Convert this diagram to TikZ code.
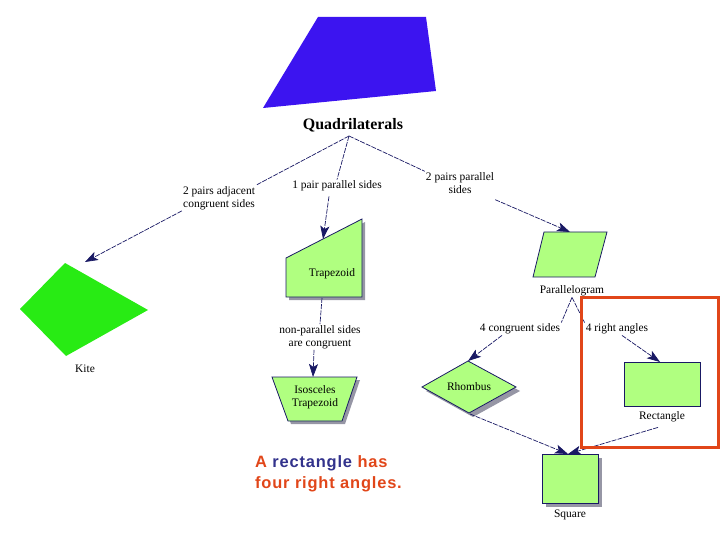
\documentclass[tikz,border=0pt]{standalone}
\usepackage{fontspec}
\setmainfont{Liberation Serif}
\newfontfamily\arialb{Liberation Sans}[BoldFont={* Bold}, LetterSpace=5]
\usetikzlibrary{arrows.meta}
\definecolor{navy}{RGB}{25,25,100}
\definecolor{lgreen}{RGB}{176,255,128}
\definecolor{kgreen}{RGB}{40,235,20}
\definecolor{qblue}{RGB}{60,20,240}
\definecolor{ored}{RGB}{225,70,25}
\definecolor{tblue}{RGB}{50,50,140}
\definecolor{shade}{RGB}{150,150,165}
\tikzset{
  x=1bp, y=-1bp,
  lab/.style={font=\fontsize{11.5}{13}\selectfont, align=center, inner sep=1bp, text=black},
  conn/.style={draw=navy, line width=0.7bp, dash pattern=on 5bp off 1.2bp},
  arr/.style={conn, -{Stealth[length=13bp,width=9bp,inset=3bp]}},
  shp/.style={fill=lgreen, draw=navy, line width=0.8bp},
  shd/.style={fill=shade},
}
\begin{document}
\begin{tikzpicture}
\useasboundingbox (0,0) rectangle (720,540);
% top blue quadrilateral
\fill[qblue] (318,17) -- (426,17) -- (436,91) -- (263,108) -- cycle;
\node[font=\fontsize{16}{18}\selectfont\bfseries] (quad) at (353,125) {Quadrilaterals};
\coordinate (qa) at (349,136);
% labels
\node[lab] (adj) at (219,198) {2 pairs adjacent\\congruent sides};
\node[lab] (one) at (337,186) {1 pair parallel sides};
\node[lab] (two) at (460,183) {2 pairs parallel\\sides};
% kite
\fill[kgreen] (65,263) -- (148,310) -- (66,356) -- (20,309) -- cycle;
\coordinate (kitetop) at (85,262);
\node[lab] (kite) at (85,369) {Kite};
% trapezoid
\fill[shd] (289,261) -- (365,222) -- (365,300) -- (289,300) -- cycle;
\path[shp] (286,258) -- (362,219) -- (362,297) -- (286,297) -- cycle;
\coordinate (traptop) at (323,239);
\node[lab] (trap) at (332,274) {Trapezoid};
\coordinate (trapbot) at (322,298);
\node[lab] (nonpar) at (320,337) {non-parallel sides\\are congruent};
% isosceles trapezoid
\fill[shd] (275,380) -- (360,380) -- (345,424) -- (291,424) -- cycle;
\path[shp] (272,377) -- (357,377) -- (342,421) -- (288,421) -- cycle;
\coordinate (isotop) at (313,377);
\node[lab] (iso) at (315,397) {Isosceles\\Trapezoid};
% parallelogram
\path[shp] (544,232) -- (607,232) -- (595,277) -- (533,277) -- cycle;
\coordinate (partop) at (570,232);
\node[lab] (par) at (572,291) {Parallelogram};
\node[lab] (cong) at (520,329) {4 congruent sides};
\node[lab] (right) at (617,329) {4 right angles};
% rhombus
\fill[shd] (472,365) -- (520,391) -- (473,417) -- (426,391) -- cycle;
\path[shp] (468,361) -- (516,387) -- (469,413) -- (422,387) -- cycle;
\coordinate (rhtop) at (468,361);
\coordinate (rhbot) at (470,414);
\node[lab] (rh) at (469,387) {Rhombus};
% rectangle
\path[shp] (624,362) rectangle (700,406);
\coordinate (recttop) at (660,362);
\node[lab] (rect) at (662,417) {Rectangle};
% square
\fill[shd] (546,458) rectangle (602,507);
\path[shp] (542,454) rectangle (598,503);
\coordinate (sqtop) at (568,454);
\node[lab] (sq) at (570,515) {Square};
% connectors
\draw[conn] (qa) -- (adj.north east);
\draw[arr] (adj.south west) -- (kitetop);
\draw[conn] (qa) -- (one.north);
\draw[arr] (one.south) ++(-8,4) coordinate (oneb) -- (traptop);
\draw[conn] (qa) -- (two.north west);
\draw[arr] (two.south east) ++(0,5) coordinate (twob) -- (partop);
\draw[conn] (trapbot) -- (nonpar.north);
\draw[arr] (nonpar.south) ++(-6,0) coordinate (nonb) -- (isotop);
\draw[conn] (par.south) -- (cong.north east);
\draw[conn] (par.south) -- (right.north west);
\draw[arr] (cong.south) ++(-18,0) coordinate (congb) -- (rhtop);
\draw[arr] (right.south) ++(5,0) coordinate (rightb) -- (recttop);
\draw[arr] (rhbot) -- (sqtop);
\draw[arr] (rect.south) ++(-4,4) coordinate (rectb) -- (sqtop);
% highlight box
\draw[ored, line width=3bp] (581,297) rectangle (718,447);
% caption
\node[anchor=north west, align=left, inner sep=0, font=\arialb\bfseries\fontsize{16.5}{21}\selectfont] (cap) at (255,455)
  {\textcolor{ored}{A} \textcolor{tblue}{rectangle} \textcolor{ored}{has}\\\textcolor{ored}{four right angles.}};
\end{tikzpicture}
\end{document}
